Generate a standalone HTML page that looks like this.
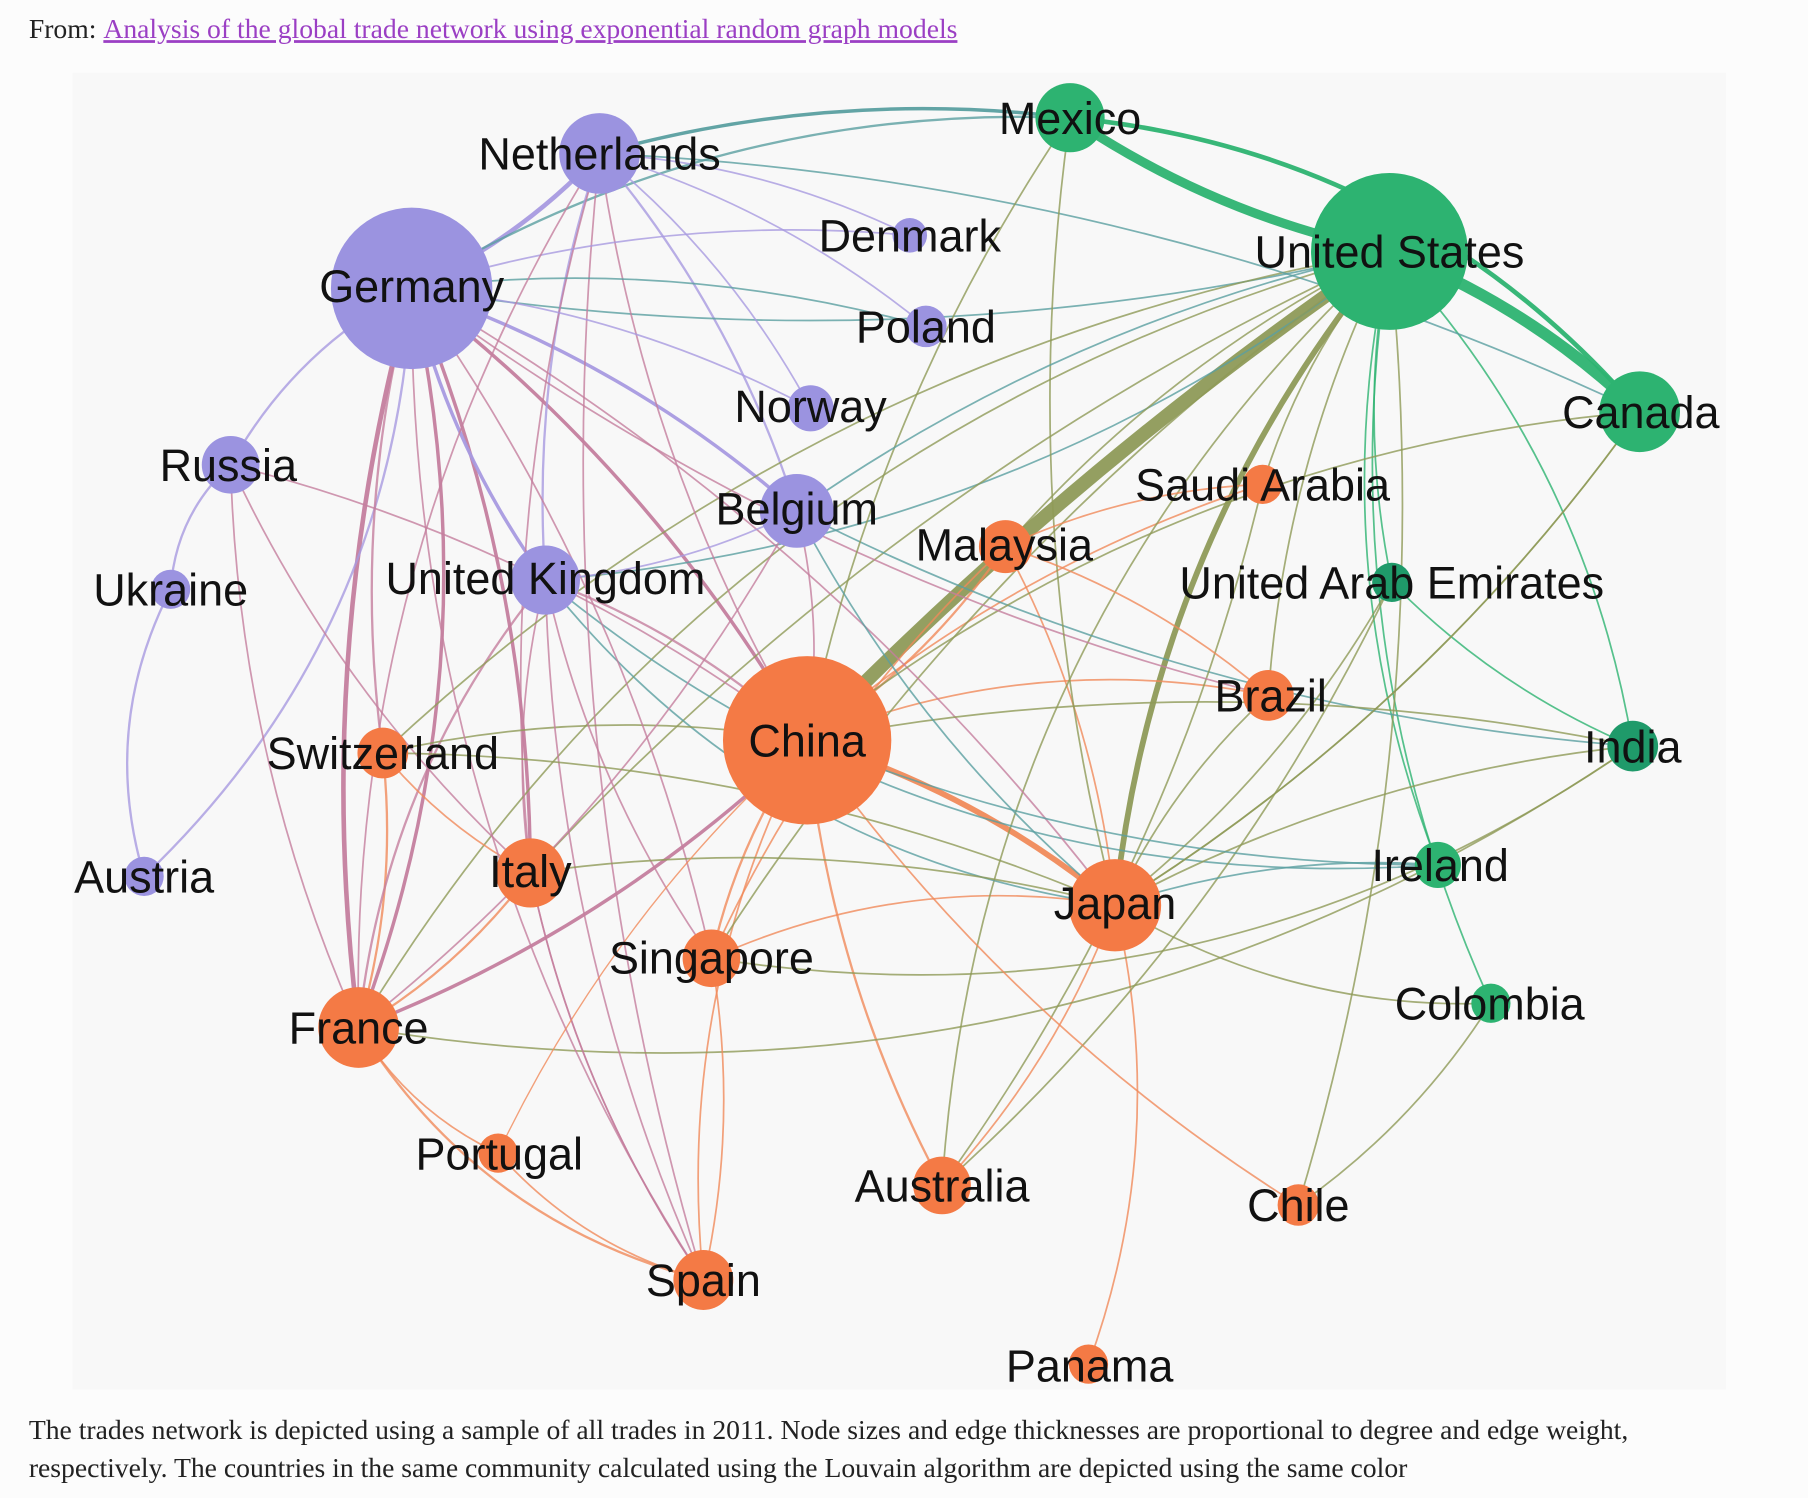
<!DOCTYPE html>
<html><head><meta charset="utf-8">
<style>
html,body{margin:0;padding:0;background:#fcfcfc;}
body{width:1808px;height:1498px;overflow:hidden;position:relative;}
svg{position:absolute;left:0;top:0;}
</style></head><body>
<svg id="s" width="1808" height="1498" viewBox="0 0 1568 1299" xmlns="http://www.w3.org/2000/svg">
<rect x="0" y="0" width="1568" height="1299" fill="#fcfcfc"/>
<rect x="63" y="63" width="1434" height="1142" fill="#f8f8f8"/>
<text x="25" y="33" font-family="Liberation Serif, serif" font-size="24" fill="#222">From: <tspan fill="#9b3fc4" text-decoration="underline">Analysis of the global trade network using exponential random graph models</tspan></text>
<g id="edges" fill="none"></g>
<g id="nodes"></g>
<g id="labels" font-family="Liberation Sans, sans-serif" font-size="39" fill="#111" text-anchor="middle">
<text x="520" y="147">Netherlands</text>
<text x="357" y="262">Germany</text>
<text x="789" y="218">Denmark</text>
<text x="803" y="297">Poland</text>
<text x="703" y="366">Norway</text>
<text x="198" y="417">Russia</text>
<text x="691" y="455">Belgium</text>
<text x="148" y="525">Ukraine</text>
<text x="473" y="515">United Kingdom</text>
<text x="125" y="774">Austria</text>
<text x="928" y="116">Mexico</text>
<text x="1205" y="232">United States</text>
<text x="1423" y="371">Canada</text>
<text x="1207" y="519">United Arab Emirates</text>
<text x="1416" y="661">India</text>
<text x="1249" y="764">Ireland</text>
<text x="1292" y="884">Colombia</text>
<text x="700" y="656">China</text>
<text x="1095" y="434">Saudi Arabia</text>
<text x="871" y="486">Malaysia</text>
<text x="1102" y="617">Brazil</text>
<text x="332" y="667">Switzerland</text>
<text x="460" y="769">Italy</text>
<text x="967" y="797">Japan</text>
<text x="617" y="844">Singapore</text>
<text x="311" y="905">France</text>
<text x="433" y="1014">Portugal</text>
<text x="817" y="1042">Australia</text>
<text x="1126" y="1059">Chile</text>
<text x="610" y="1124">Spain</text>
<text x="945" y="1198">Panama</text>
</g>
<text x="25" y="1248" font-family="Liberation Serif, serif" font-size="24" fill="#222">The trades network is depicted using a sample of all trades in 2011. Node sizes and edge thicknesses are proportional to degree and edge weight,</text>
<text x="25" y="1281" font-family="Liberation Serif, serif" font-size="24" fill="#222">respectively. The countries in the same community calculated using the Louvain algorithm are depicted using the same color</text>
</svg>
<script>
var P="#9b93e0",G="#2db371",DG="#1f9a6a",O="#f47a45";
var N={Ne:[520,133,35,P],Ge:[357,250,70,P],De:[789,204,15,P],Po:[803,283,18,P],No:[703,354,20,P],Ru:[200,403,25,P],Be:[691,443,32,P],Uk:[148,511,17,P],UK:[473,503,30,P],Au:[125,760,17,P],
Me:[928,102,30,G],US:[1205,218,68,G],Ca:[1422,357,35,G],AE:[1207,505,17,DG],In:[1416,647,22,DG],Ir:[1247,750,20,G],Co:[1293,870,17,G],
Ch:[700,642,73,O],SA:[1095,420,17,O],Ma:[872,474,23,O],Br:[1100,603,22,O],Sw:[332,653,22,O],It:[460,757,30,O],Ja:[967,785,40,O],Si:[617,831,25,O],Fr:[311,891,35,O],Pt:[432,1000,17,O],Aus:[817,1028,25,O],Cl:[1126,1045,18,O],Sp:[610,1110,26,O],Pa:[944,1183,17,O]};
var pu="#a89ae0",pk="#c47e9e",ol="#8e9a58",te="#5a9fa0",or="#f08a5a",gr="#2db371";
var E=[
["US","Ch",12,ol,.05],["US","Ca",10,gr,-.1],["Me","US",8,gr,.1],["US","Ja",5,ol,.15],["Ge","Ne",4,pu,.1],["Ge","Fr",4,pk,.1],["Ch","Ja",5,or,-.1],["Ne","Me",3,te,-.1],["Me","Ca",4,gr,-.2],["Ge","Me",2,te,-.15],
["Ge","Fr",3,pk,-.15],["Ge","It",3,pk,-.1],["Ge","UK",3,pu,.1],["Ge","Be",3,pu,-.1],["Ge","Ru",2,pu,.15],["Ge","Au",2,pu,-.2],["Ru","Uk",2,pu,.2],["Uk","Au",2,pu,.2],["Ge","Ch",3,pk,-.1],["Ne","UK",2,pu,.1],["Ne","Be",2,pu,-.1],
["Ge","Sw",2,pk,.1],["Fr","Ch",3,pk,.1],["Fr","It",2,or,.1],["Fr","Sp",2,or,.2],["Fr","Sw",2,or,.1],["UK","Fr",2,pk,.15],["UK","It",1.5,pk,.1],["Ch","Si",2,or,.1],["Ch","Aus",2,or,.1],["Ch","Ma",2,or,.1],["Ja","Aus",1.5,or,-.1],["Ja","Pa",1.5,or,-.15],
["Ch","Sp",1.5,or,.15],["Ch","Br",1.5,or,-.15],["Ch","SA",1.5,or,-.1],["It","Sp",1.5,pk,.1],["Pt","Sp",1.5,or,.15],["Fr","Pt",1.5,or,.15],["Ja","Si",1.5,or,.15],["Ma","Ja",1.5,or,-.1],["Ma","Si",1.5,or,.1],
["US","AE",1.5,gr,.1],["US","In",1.5,gr,-.15],["US","Ir",1.5,gr,.15],["US","Co",1.5,gr,.15],["In","AE",1.5,gr,-.1],["Ca","Ja",1.5,ol,-.1],["US","Br",1.5,ol,.1],["US","Aus",1.5,ol,.2],["US","Cl",1.5,ol,-.1],["US","UK",1.5,te,-.15],["US","Ge",1.5,te,-.1],["US","Fr",1.5,ol,.2],["US","Si",1.5,ol,.1],["US","Ma",1.5,ol,.1],["US","It",1.5,ol,.1],["US","SA",1.5,ol,.1],["US","Sw",1.5,ol,.15],
["UK","Ja",1.5,te,.2],["UK","Ir",1.5,te,.2],["Be","In",1.5,te,.1],["Ge","Ja",1.5,pk,-.1],["Ne","Ch",1.5,pk,.1],["Ne","Sp",1.5,pk,.1],["Ne","It",1.5,pk,.1],["Ne","No",1.5,pu,-.1],["Ne","De",1.5,pu,-.1],["Ne","Po",1.5,pu,-.1],["Ge","De",1.5,pu,-.1],["Ge","Po",1.5,te,-.1],["Ge","No",1.5,pu,-.1],
["Ru","Ch",1.5,pk,-.1],["Ru","It",1.5,pk,.1],["Sw","It",1.5,or,.1],["Sw","Ch",1.5,ol,-.1],["Fr","In",1.5,ol,.2],["Si","In",1.5,ol,.2],["Ch","In",1.5,ol,-.1],["Ch","Ca",1.5,ol,-.15],["Ja","Ca",1.5,ol,.1],["Ja","In",1.5,ol,-.1],["Ja","AE",1.5,ol,.1],["Br","Ja",1.5,ol,.1],
["Aus","AE",1.5,ol,.1],["Aus","SA",1.5,ol,.1],["Cl","Co",1.5,ol,.1],["Ja","Ir",1.5,te,-.1],["Ne","Ca",1.5,te,-.1],["Ge","Br",1.5,pk,.1],["UK","Sp",1.5,pk,.1],["UK","Si",1.5,pk,.1],["Ch","Cl",1.5,or,.1],["Be","Ch",1.5,pk,-.1],["UK","Ch",2,pk,-.1],["Ge","Si",1.5,pk,-.1],["Me","Ch",1.5,ol,.1],["Me","Ja",1.5,ol,.1],["Be","Ja",1.5,te,.1],["Ma","SA",1.5,or,-.1],["Ch","Ir",1.5,te,.1],
["Ru","Fr",1.5,pk,.1],["Ne","Fr",1.5,pk,.15],["Be","Fr",1.5,pk,-.1],["UK","Be",1.5,pu,.1],["Ge","Sp",1.5,pk,.15],["Sp","It",1.5,pk,-.1],["It","Ja",1.5,ol,-.1],["Sw","Ja",1.5,ol,-.1],["Ja","Co",1.5,ol,.15],["Ch","Pt",1.2,or,.1],["Si","Sp",1.5,or,-.1],["US","Be",1.5,te,.1],["Ma","Br",1.5,or,-.1]
];
var eg=document.getElementById("edges"),ns="http://www.w3.org/2000/svg";
E.forEach(function(e){var a=N[e[0]],b=N[e[1]];if(!a||!b||!e[2])return;
var dx=b[0]-a[0],dy=b[1]-a[1],mx=(a[0]+b[0])/2-dy*e[4],my=(a[1]+b[1])/2+dx*e[4];
var p=document.createElementNS(ns,"path");p.setAttribute("d","M"+a[0]+","+a[1]+"Q"+mx+","+my+" "+b[0]+","+b[1]);
p.setAttribute("stroke",e[3]);p.setAttribute("stroke-width",e[2]);p.setAttribute("opacity",e[2]>2?.95:.8);eg.appendChild(p);});
var ng=document.getElementById("nodes");
for(var k in N){var n=N[k],c=document.createElementNS(ns,"circle");c.setAttribute("cx",n[0]);c.setAttribute("cy",n[1]);c.setAttribute("r",n[2]);c.setAttribute("fill",n[3]);ng.appendChild(c);}
</script>
</body></html>
